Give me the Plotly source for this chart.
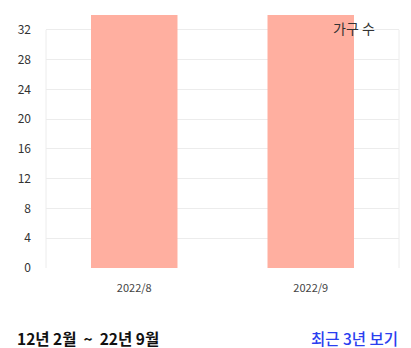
import plotly.graph_objects as go

categories = ["2022/8", "2022/9"]
households = [40, 40]
y_ticks = [0, 4, 8, 12, 16, 20, 24, 28, 32]
legend_label = "가구 수"
period_text = "12년 2월&nbsp;&nbsp;~&nbsp;&nbsp;22년 9월"
link_text = "최근 3년 보기"

font = "Noto Sans CJK KR, Noto Sans, sans-serif"

fig = go.Figure()
fig.add_trace(go.Bar(
    x=categories, y=households, name=legend_label,
    marker=dict(color="#FFAFA0", line=dict(width=0)),
    showlegend=False,
))

grid_col = "#ececec"
fig.update_layout(
    width=411, height=348,
    margin=dict(l=46, r=12, t=15, b=80),
    paper_bgcolor="white", plot_bgcolor="white",
    bargap=0.51,
    font=dict(family=font, color="#333"),
    xaxis=dict(showgrid=False, showline=False, zeroline=False,
               tickfont=dict(size=11, color="#444"), ticks="",
               ticklabelstandoff=12),
    yaxis=dict(range=[0, 34], tickvals=y_ticks, showgrid=True, gridcolor=grid_col,
               gridwidth=1, zeroline=False, showline=False, ticks="",
               tickfont=dict(size=12, color="#333"), ticklabelstandoff=14),
)

for xp in [0, 1]:
    fig.add_shape(type="line", xref="paper", yref="y", x0=xp, x1=xp, y0=0, y1=y_ticks[-1],
                  line=dict(color=grid_col, width=1), layer="below")

fig.add_annotation(xref="paper", yref="paper", x=0.938, y=0.95, text=legend_label,
                   showarrow=False, font=dict(size=14, color="#333"),
                   xanchor="right", yanchor="middle")
fig.add_annotation(xref="paper", yref="paper", x=-0.088, y=-0.275, text="<b>" + period_text + "</b>",
                   showarrow=False, font=dict(size=15.5, color="#111"), xanchor="left", yanchor="middle")
fig.add_annotation(xref="paper", yref="paper", x=1.003, y=-0.275, text=link_text,
                   showarrow=False, font=dict(size=15.5, color="#2b3ff0", weight=500),
                   xanchor="right", yanchor="middle")

fig.write_html("out.html")
